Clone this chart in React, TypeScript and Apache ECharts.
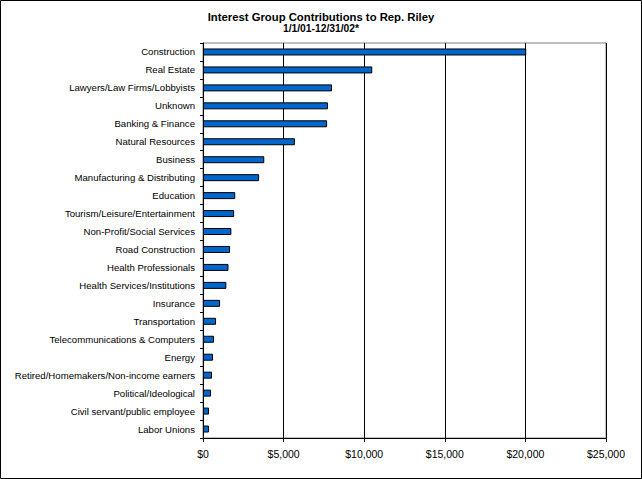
import React, { useEffect, useRef } from "react";
import * as echarts from "echarts";

const TITLE = "Interest Group Contributions to Rep. Riley";
const SUBTITLE = "1/1/01-12/31/02*";

const categories = [
  "Construction",
  "Real Estate",
  "Lawyers/Law Firms/Lobbyists",
  "Unknown",
  "Banking & Finance",
  "Natural Resources",
  "Business",
  "Manufacturing & Distributing",
  "Education",
  "Tourism/Leisure/Entertainment",
  "Non-Profit/Social Services",
  "Road Construction",
  "Health Professionals",
  "Health Services/Institutions",
  "Insurance",
  "Transportation",
  "Telecommunications & Computers",
  "Energy",
  "Retired/Homemakers/Non-income earners",
  "Political/Ideological",
  "Civil servant/public employee",
  "Labor Unions",
];

const contributions = [
  20050, 10500, 8000, 7750, 7700, 5700, 3800, 3480, 2000, 1930, 1760, 1680,
  1580, 1450, 1060, 810, 680, 620, 560, 500, 370, 370,
];

const X_MIN = 0;
const X_MAX = 25000;
const X_STEP = 5000;

const FONT = "Liberation Sans, Arial, sans-serif";

export default function App() {
  const ref = useRef<HTMLDivElement>(null);

  useEffect(() => {
    document.body.style.margin = "0";
    if (!ref.current) return;
    const chart = echarts.init(ref.current, null, { renderer: "svg" });
    chart.setOption({
      animation: false,
      backgroundColor: "#ffffff",
      title: [
        {
          text: TITLE,
          left: "center",
          top: 10,
          padding: 0,
          textStyle: {
            fontFamily: FONT,
            fontSize: 11.3,
            fontWeight: "bold",
            color: "#000",
            lineHeight: 14,
          },
        },
        {
          text: SUBTITLE,
          left: "center",
          top: 22,
          padding: 0,
          textStyle: {
            fontFamily: FONT,
            fontSize: 10.3,
            fontWeight: "bold",
            color: "#000",
            lineHeight: 13,
          },
        },
      ],
      graphic: [
        {
          type: "rect",
          shape: { x: 0.5, y: 0.5, width: 641, height: 478 },
          style: { fill: "none", stroke: "#000", lineWidth: 1 },
          silent: true,
          z: 100,
        },
      ],
      grid: {
        left: 203,
        right: 36,
        top: 43,
        bottom: 41,
        show: true,
        borderColor: "#808080",
        borderWidth: 1,
        backgroundColor: "#ffffff",
        containLabel: false,
      },
      xAxis: {
        type: "value",
        min: X_MIN,
        max: X_MAX,
        interval: X_STEP,
        axisLine: { show: true, lineStyle: { color: "#000", width: 1 } },
        axisTick: { show: true, length: 4, lineStyle: { color: "#000" } },
        splitLine: { show: true, lineStyle: { color: "#000", width: 1 } },
        axisLabel: {
          fontFamily: FONT,
          fontSize: 10.5,
          color: "#000",
          margin: 10,
          formatter: (v: number) => "$" + v.toLocaleString("en-US"),
        },
      },
      yAxis: {
        type: "category",
        inverse: true,
        data: categories,
        axisLine: { show: true, lineStyle: { color: "#000", width: 1 } },
        axisTick: {
          show: true,
          length: 3,
          alignWithLabel: false,
          lineStyle: { color: "#000" },
        },
        splitLine: { show: false },
        axisLabel: {
          fontFamily: FONT,
          fontSize: 9.6,
          color: "#000",
          margin: 8,
        },
      },
      series: [
        {
          type: "bar",
          data: contributions,
          barWidth: 7,
          itemStyle: {
            color: "#0066cc",
            borderColor: "#000",
            borderWidth: 1,
          },
        },
      ],
    });
    return () => chart.dispose();
  }, []);

  return <div ref={ref} style={{ width: 642, height: 479 }} />;
}
